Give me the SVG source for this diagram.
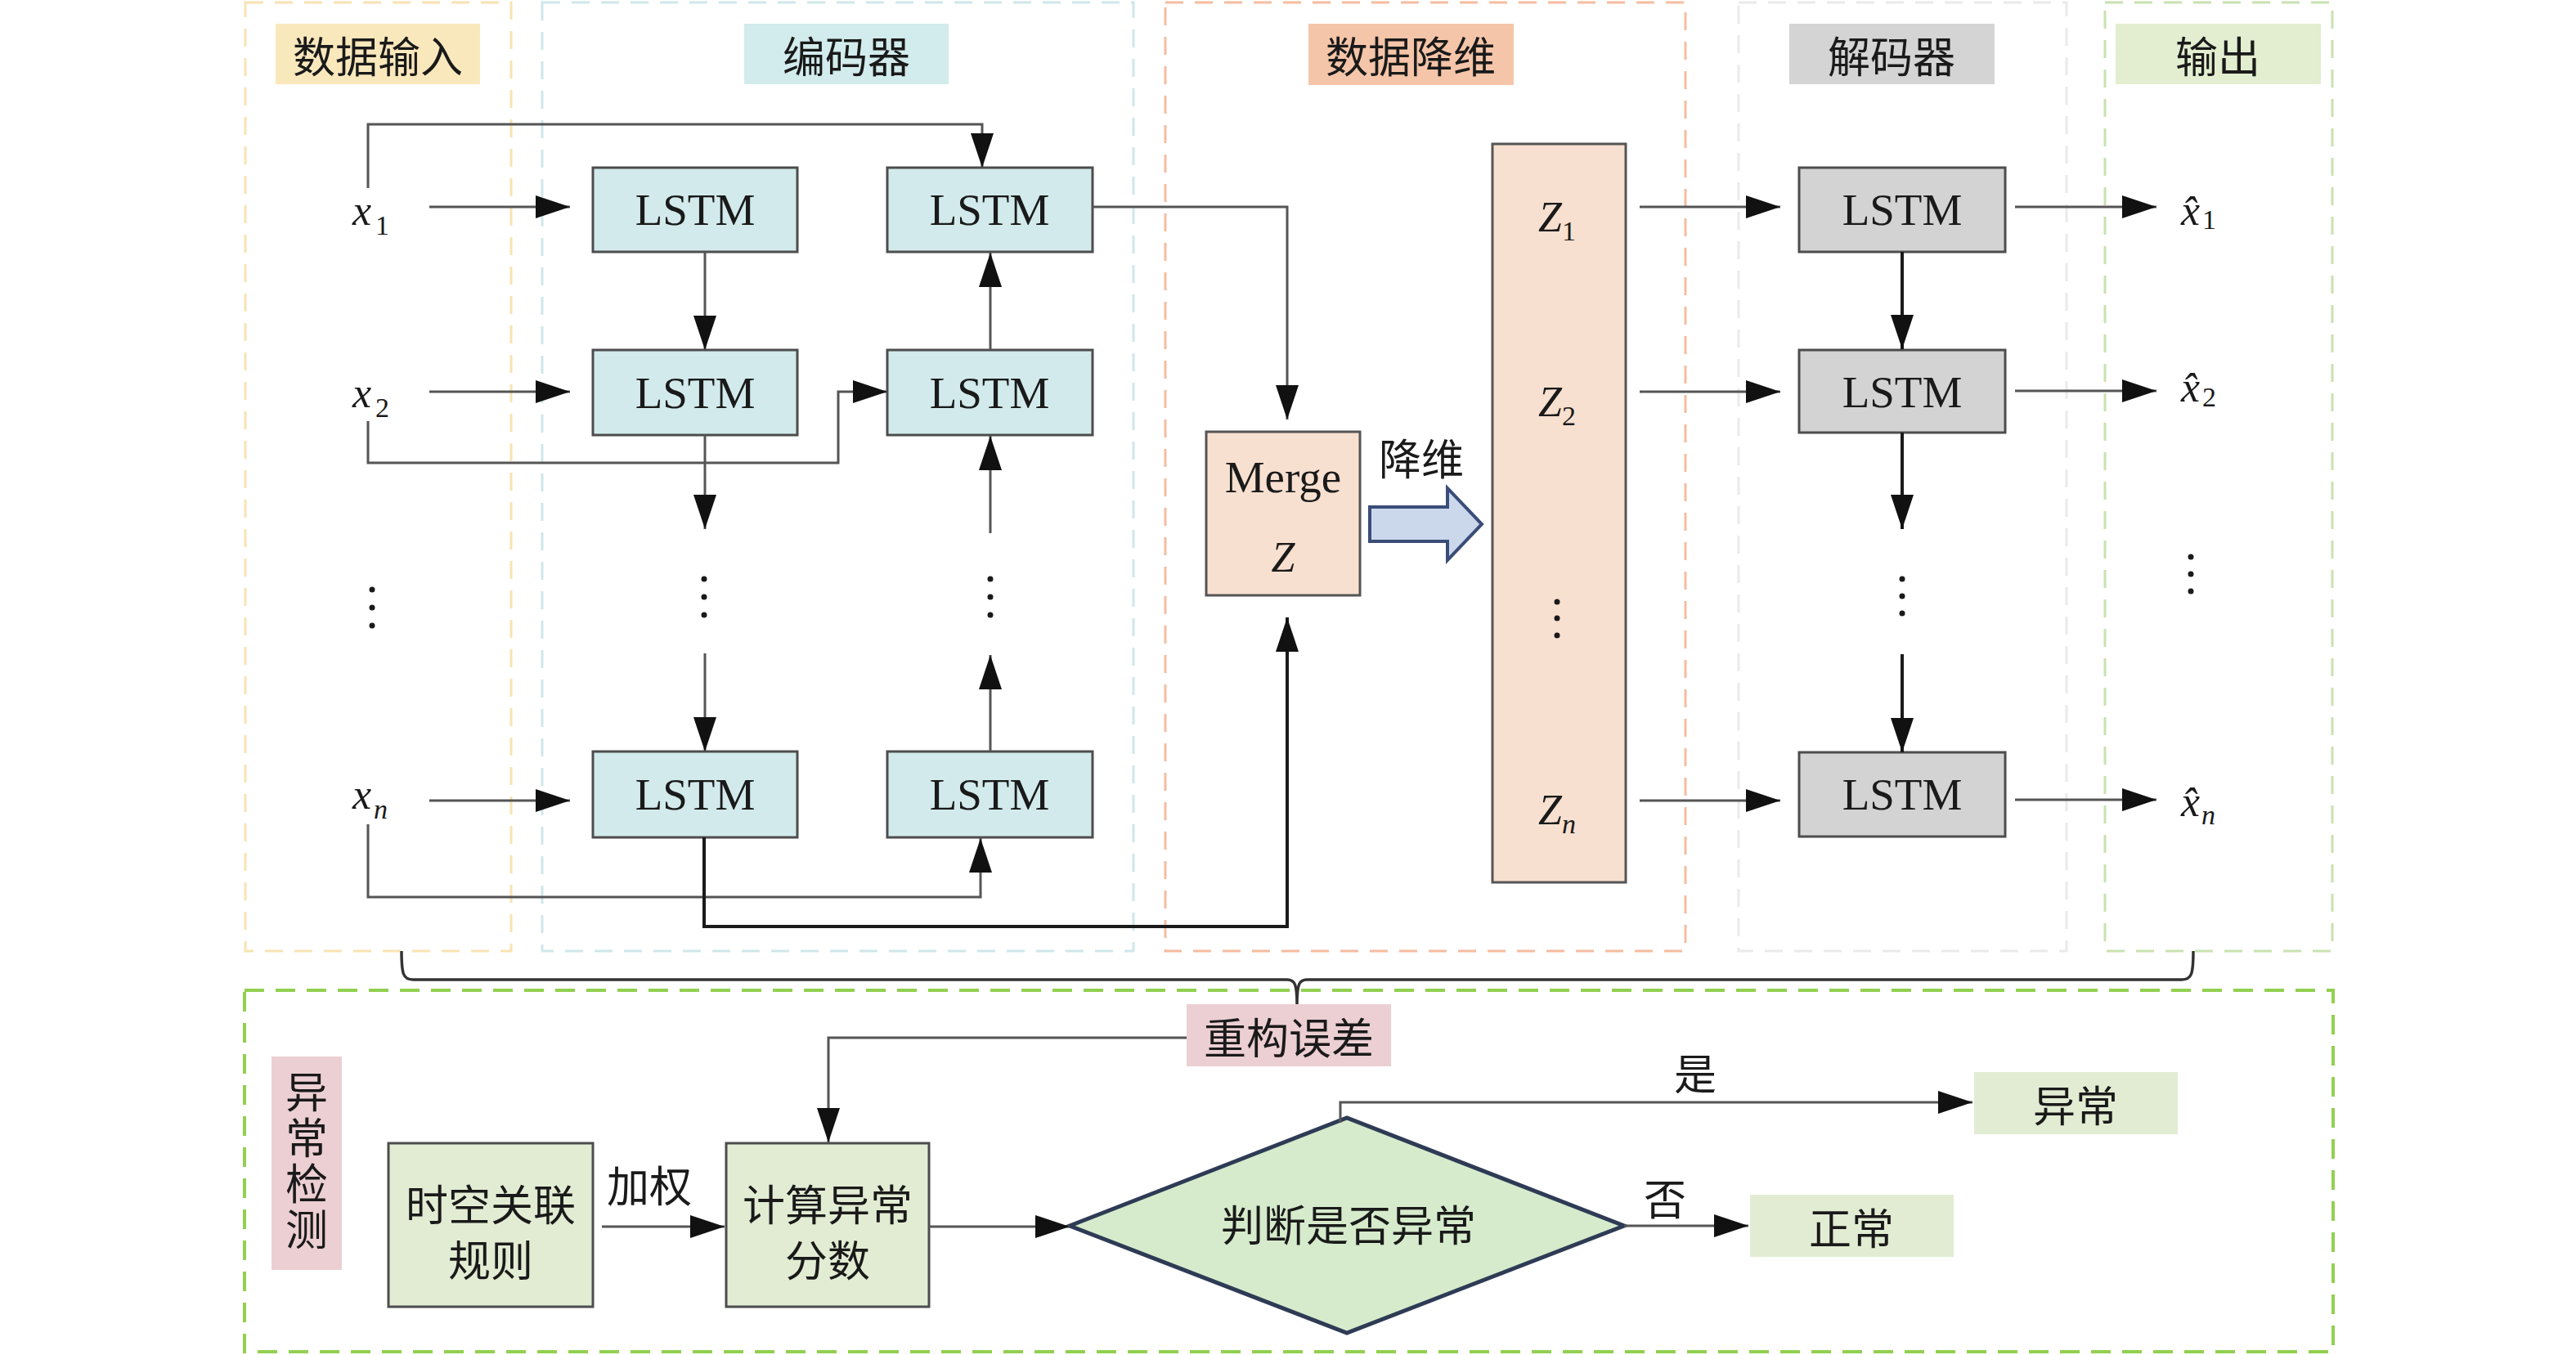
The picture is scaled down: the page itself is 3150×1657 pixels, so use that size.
<svg xmlns="http://www.w3.org/2000/svg" width="3150" height="1657" viewBox="0 0 3150 1657">
<defs>
<style>
.cn{font-family:"Noto Sans CJK SC","Noto Sans",sans-serif;font-size:52px;fill:#1a1a1a;text-anchor:middle;dominant-baseline:central}
.vt{font-family:"Noto Sans CJK SC","Noto Sans",sans-serif;font-size:52px;fill:#1a1a1a;text-anchor:middle;writing-mode:vertical-rl;letter-spacing:4px}
.lat{font-family:"Liberation Serif","Times New Roman",serif;font-size:55px;fill:#1a1a1a;text-anchor:middle}
.it{font-family:"Liberation Serif","Times New Roman",serif;font-style:italic;font-size:52px;fill:#1a1a1a}
.sub{font-style:normal;font-size:34px}
.subi{font-style:italic;font-size:34px}
.grp{fill:none;stroke-width:3;stroke-dasharray:22 14}
.enc{fill:#D2EAEB;stroke:#4d4d4d;stroke-width:3}
.dec{fill:#D3D3D3;stroke:#4d4d4d;stroke-width:3}
.peach{fill:#F8E0D0;stroke:#555;stroke-width:3}
.gbox{fill:#E2ECD3;stroke:#4d4d4d;stroke-width:3}
.c{fill:none;stroke:#555;stroke-width:3}
.k{fill:none;stroke:#1a1a1a;stroke-width:4}
.dot{fill:#1a1a1a}
</style>
<marker id="ah" markerUnits="userSpaceOnUse" markerWidth="42" markerHeight="28" refX="42" refY="14" orient="auto">
<path d="M0,0 L42,14 L0,28 z" fill="#111"/>
</marker>
</defs>
<rect width="3150" height="1657" fill="#fff"/>

<g id="groups">
<rect class="grp" x="300" y="3" width="325" height="1160" stroke="#F8E3B2"/>
<rect class="grp" x="663" y="3" width="723" height="1160" stroke="#CFE7EA"/>
<rect class="grp" x="1425" y="3" width="636" height="1160" stroke="#F5BCA0"/>
<rect class="grp" x="2126" y="3" width="401" height="1160" stroke="#EAEAEA"/>
<rect class="grp" x="2574" y="3" width="278" height="1160" stroke="#C9E1B0"/>
<rect x="299" y="1211" width="2554" height="442" fill="none" stroke="#92D050" stroke-width="4" stroke-dasharray="24 14"/>
</g>

<g id="titles">
<g id="t-input"><rect x="337" y="29" width="250" height="74" fill="#FAE8BD"/><text class="cn" x="462" y="66">数据输入</text></g>
<g id="t-encoder"><rect x="910" y="29" width="250" height="74" fill="#D2EBEC"/><text class="cn" x="1035" y="66">编码器</text></g>
<g id="t-reduce"><rect x="1600" y="29" width="251" height="75" fill="#F5C5A9"/><text class="cn" x="1725" y="66">数据降维</text></g>
<g id="t-decoder"><rect x="2188" y="29" width="251" height="74" fill="#D4D4D4"/><text class="cn" x="2313" y="66">解码器</text></g>
<g id="t-output"><rect x="2587" y="29" width="251" height="74" fill="#E2EECF"/><text class="cn" x="2712" y="66">输出</text></g>
<g id="t-detect"><rect x="332" y="1292" width="86" height="261" fill="#ECCFD3"/>
<text class="vt" x="375" y="1421">异常检测</text></g>
</g>

<g id="inputs">
<text class="it" x="431" y="275">x<tspan class="sub" dx="5" dy="12">1</tspan></text>
<text class="it" x="431" y="498">x<tspan class="sub" dx="5" dy="12">2</tspan></text>
<text class="it" x="431" y="989">x<tspan class="subi" dx="3" dy="12">n</tspan></text>
<circle class="dot" cx="455" cy="721" r="3.5"/><circle class="dot" cx="455" cy="743" r="3.5"/><circle class="dot" cx="455" cy="765" r="3.5"/>
</g>

<g id="encoder">
<g id="enc-l1"><rect class="enc" x="725" y="205" width="250" height="103"/><text class="lat" x="850" y="275">LSTM</text></g>
<g id="enc-r1"><rect class="enc" x="1085" y="205" width="251" height="103"/><text class="lat" x="1210" y="275">LSTM</text></g>
<g id="enc-l2"><rect class="enc" x="725" y="428" width="250" height="104"/><text class="lat" x="850" y="499">LSTM</text></g>
<g id="enc-r2"><rect class="enc" x="1085" y="428" width="251" height="104"/><text class="lat" x="1210" y="499">LSTM</text></g>
<g id="enc-ln"><rect class="enc" x="725" y="919" width="250" height="105"/><text class="lat" x="850" y="990">LSTM</text></g>
<g id="enc-rn"><rect class="enc" x="1085" y="919" width="251" height="105"/><text class="lat" x="1210" y="990">LSTM</text></g>
<circle class="dot" cx="861" cy="708" r="3.5"/><circle class="dot" cx="861" cy="730" r="3.5"/><circle class="dot" cx="861" cy="752" r="3.5"/>
<circle class="dot" cx="1211" cy="708" r="3.5"/><circle class="dot" cx="1211" cy="730" r="3.5"/><circle class="dot" cx="1211" cy="752" r="3.5"/>
</g>

<g id="merge"><rect class="peach" x="1475" y="528" width="188" height="200"/>
<text class="lat" x="1569" y="602">Merge</text>
<text class="it" x="1569" y="699" text-anchor="middle">Z</text></g>

<g id="reduce-arrow">
<path d="M1675,620 L1770,620 L1770,597 L1812,641 L1770,685 L1770,662 L1675,662 z" fill="#CBD8EC" stroke="#3A4D78" stroke-width="4" stroke-linejoin="miter"/>
<text class="cn" x="1738" y="558">降维</text>
</g>

<g id="zcol"><rect class="peach" x="1825" y="176" width="163" height="903"/>
<text class="it" x="1881" y="283">Z<tspan class="sub" dx="0" dy="11">1</tspan></text>
<text class="it" x="1881" y="509">Z<tspan class="sub" dx="0" dy="11">2</tspan></text>
<text class="it" x="1881" y="1008">Z<tspan class="subi" dx="0" dy="11">n</tspan></text>
<circle class="dot" cx="1904" cy="736" r="3.5"/><circle class="dot" cx="1904" cy="756" r="3.5"/><circle class="dot" cx="1904" cy="777" r="3.5"/>
</g>

<g id="decoder">
<g id="dec-1"><rect class="dec" x="2200" y="205" width="252" height="103"/><text class="lat" x="2326" y="275">LSTM</text></g>
<g id="dec-2"><rect class="dec" x="2200" y="428" width="252" height="101"/><text class="lat" x="2326" y="498">LSTM</text></g>
<g id="dec-n"><rect class="dec" x="2200" y="920" width="252" height="103"/><text class="lat" x="2326" y="990">LSTM</text></g>
<circle class="dot" cx="2326" cy="708" r="3.5"/><circle class="dot" cx="2326" cy="729" r="3.5"/><circle class="dot" cx="2326" cy="750" r="3.5"/>
</g>

<g id="outputs">
<text class="it" x="2667" y="275">x̂<tspan class="sub" dx="3" dy="5">1</tspan></text>
<text class="it" x="2667" y="491">x̂<tspan class="sub" dx="3" dy="6">2</tspan></text>
<text class="it" x="2667" y="998">x̂<tspan class="subi" dx="2" dy="10">n</tspan></text>
<circle class="dot" cx="2679" cy="681" r="3.5"/><circle class="dot" cx="2679" cy="702" r="3.5"/><circle class="dot" cx="2679" cy="723" r="3.5"/>
</g>

<g id="recon"><rect x="1451" y="1228" width="250" height="76" fill="#ECCFD3"/><text class="cn" x="1576" y="1266">重构误差</text></g>
<g id="rules"><rect class="gbox" x="475" y="1398" width="250" height="200"/><text class="cn" x="600" y="1470">时空关联</text><text class="cn" x="600" y="1538">规则</text></g>
<g id="score"><rect class="gbox" x="888" y="1398" width="248" height="200"/><text class="cn" x="1012" y="1470">计算异常</text><text class="cn" x="1012" y="1538">分数</text></g>
<g id="decision"><path d="M1308,1499 L1647,1367 L1986,1499 L1647,1630 z" fill="#D6EBCC" stroke="#2E3B55" stroke-width="5"/><text class="cn" x="1649" y="1495">判断是否异常</text></g>
<g id="abnormal"><rect x="2414" y="1311" width="249" height="76" fill="#E2ECD3"/><text class="cn" x="2538" y="1349">异常</text></g>
<g id="normal"><rect x="2140" y="1461" width="249" height="76" fill="#E2ECD3"/><text class="cn" x="2264" y="1499">正常</text></g>

<g id="labels">
<text class="cn" x="794" y="1447">加权</text>
<text class="cn" x="2073" y="1310">是</text>
<text class="cn" x="2036" y="1463">否</text>
</g>

<g id="connectors">
<line class="c" x1="525" y1="253" x2="697" y2="253" marker-end="url(#ah)"/>
<line class="c" x1="525" y1="479" x2="697" y2="479" marker-end="url(#ah)"/>
<line class="c" x1="525" y1="979" x2="697" y2="979" marker-end="url(#ah)"/>
<line class="c" x1="862" y1="308" x2="862" y2="428" marker-end="url(#ah)"/>
<line class="c" x1="862" y1="532" x2="862" y2="647" marker-end="url(#ah)"/>
<line class="c" x1="862" y1="799" x2="862" y2="919" marker-end="url(#ah)"/>
<line class="c" x1="1211" y1="428" x2="1211" y2="309" marker-end="url(#ah)"/>
<line class="c" x1="1211" y1="652" x2="1211" y2="533" marker-end="url(#ah)"/>
<line class="c" x1="1211" y1="919" x2="1211" y2="801" marker-end="url(#ah)"/>
<polyline class="c" points="450,230 450,152 1201,152 1201,205" marker-end="url(#ah)"/>
<polyline class="c" points="450,515 450,566 1025,566 1025,479 1085,479" marker-end="url(#ah)"/>
<polyline class="c" points="450,1008 450,1097 1199,1097 1199,1025" marker-end="url(#ah)"/>
<polyline class="k" points="861,1024 861,1133 1574,1133 1574,755" marker-end="url(#ah)"/>
<polyline class="c" points="1336,253 1574,253 1574,513" marker-end="url(#ah)"/>
<line class="c" x1="2005" y1="253" x2="2177" y2="253" marker-end="url(#ah)"/>
<line class="c" x1="2005" y1="479" x2="2177" y2="479" marker-end="url(#ah)"/>
<line class="c" x1="2005" y1="979" x2="2177" y2="979" marker-end="url(#ah)"/>
<line class="k" x1="2326" y1="308" x2="2326" y2="427" marker-end="url(#ah)"/>
<line class="k" x1="2326" y1="529" x2="2326" y2="647" marker-end="url(#ah)"/>
<line class="k" x1="2326" y1="800" x2="2326" y2="920" marker-end="url(#ah)"/>
<line class="c" x1="2464" y1="253" x2="2637" y2="253" marker-end="url(#ah)"/>
<line class="c" x1="2464" y1="478" x2="2637" y2="478" marker-end="url(#ah)"/>
<line class="c" x1="2464" y1="978" x2="2637" y2="978" marker-end="url(#ah)"/>
<path d="M491,1163 C491,1191 493,1198 505,1198 L1574,1198 C1583,1198 1586,1203 1586,1228 M1586,1228 C1586,1203 1589,1198 1598,1198 L2668,1198 C2680,1198 2682,1191 2682,1163" fill="none" stroke="#333" stroke-width="3.5"/>
<polyline class="c" points="1451,1269 1013,1269 1013,1397" marker-end="url(#ah)"/>
<line class="c" x1="736" y1="1500" x2="886" y2="1500" marker-end="url(#ah)"/>
<line class="c" x1="1136" y1="1500" x2="1308" y2="1500" marker-end="url(#ah)"/>
<polyline class="c" points="1639,1373 1639,1348 2412,1348" marker-end="url(#ah)"/>
<line class="c" x1="1986" y1="1499" x2="2138" y2="1499" marker-end="url(#ah)"/>
</g>
</svg>
